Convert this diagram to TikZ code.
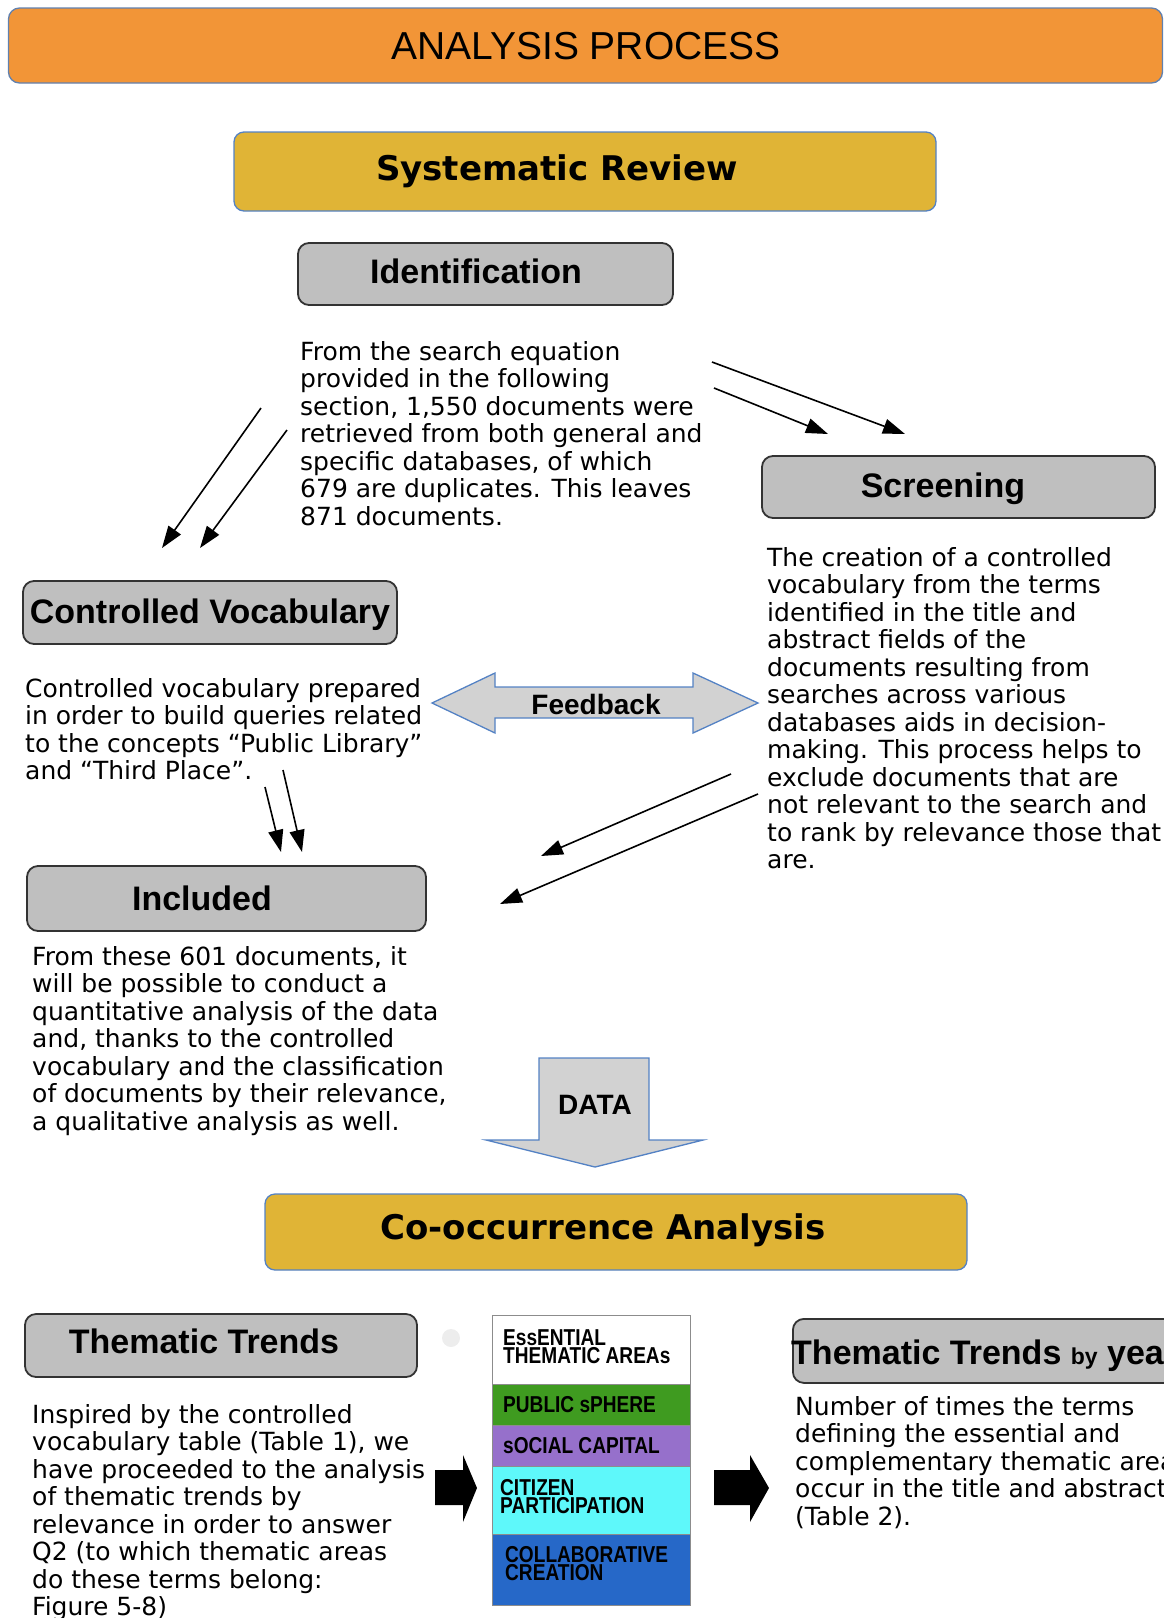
\documentclass[tikz,border=0pt]{standalone}
\usepackage{fontspec}
\setmainfont{DejaVu Sans}
\newfontfamily\hdfont{Liberation Sans}
\newfontfamily\cellfont{Liberation Sans Bold}[FakeStretch=0.83]
\usetikzlibrary{arrows.meta}
\definecolor{orng}{RGB}{242,149,55}
\definecolor{gold}{RGB}{224,180,54}
\definecolor{boxgray}{RGB}{191,191,191}
\definecolor{lgray}{RGB}{210,210,210}
\definecolor{bordblue}{RGB}{84,130,196}
\definecolor{cgreen}{RGB}{63,155,32}
\definecolor{cpurple}{RGB}{150,112,203}
\definecolor{ccyan}{RGB}{94,248,250}
\definecolor{cblue}{RGB}{38,104,200}
\newcommand\bodyfs{\fontsize{25}{27.5}\selectfont}
\newcommand\tstrut{\rule{0pt}{20pt}}
\newcommand\cstrut{\rule{0pt}{16pt}}
\begin{document}
\begin{tikzpicture}[x=1pt,y=-1pt,
  graybox/.style={draw=black!80, line width=1.8pt, fill=boxgray, rounded corners=11pt, inner sep=0pt},
  goldbox/.style={draw=bordblue, line width=1.3pt, fill=gold, rounded corners=10pt, inner sep=0pt},
  hd/.style={font=\hdfont\bfseries\fontsize{34}{34}\selectfont, inner sep=0pt, anchor=base},
  gd/.style={font=\bfseries\fontsize{34}{34}\selectfont, inner sep=0pt, anchor=base},
  body/.style={font=\bodyfs, align=left, inner sep=0pt, anchor=north west},
  conn/.style={line width=1.6pt, -{Triangle[length=22pt,width=15pt]}},
  blockarrow/.style={draw=bordblue, line width=1.3pt, fill=lgray, line join=miter},
  cell/.style={draw=black!45, line width=1.2pt, anchor=north west, minimum width=198pt, inner sep=0pt},
  cellT/.style={font=\cellfont\fontsize{23}{18}\selectfont, align=left, inner sep=0pt, anchor=north west}]
\useasboundingbox (0,0) rectangle (1164,1618);
\clip (0,0) rectangle (1164,1618);

% Title bar
\node[draw=bordblue!70!gray, line width=1.3pt, fill=orng, rounded corners=11pt, minimum width=1154pt, minimum height=75pt, inner sep=0pt] (title) at (585.5,45.5) {};
\node[font=\hdfont\fontsize{39}{39}\selectfont, inner sep=0pt, anchor=base] (titleT) at (586,59) {ANALYSIS PROCESS};

% Systematic Review
\node[goldbox, minimum width=702pt, minimum height=79pt] (sysrev) at (585,171.5) {};
\node[gd] (sysrevT) at (557,180) {Systematic Review};

% Identification
\node[graybox, minimum width=375pt, minimum height=62pt] (ident) at (485.5,274) {};
\node[hd] (identT) at (476,283) {Identification};
\node[body] (identB) at (300,340) {\tstrut From the search equation\\provided in the following\\section, 1,550 documents were\\retrieved from both general and\\specific databases, of which\\679 are duplicates. This leaves\\871 documents.};

% Screening
\node[graybox, minimum width=393pt, minimum height=62pt] (screen) at (958.5,487) {};
\node[hd] (screenT) at (943,497) {Screening};
\node[body] (screenB) at (767,546) {\tstrut The creation of a controlled\\vocabulary from the terms\\identified in the title and\\abstract fields of the\\documents resulting from\\searches across various\\databases aids in decision-\\making. This process helps to\\exclude documents that are\\not relevant to the search and\\to rank by relevance those that\\are.};

% Controlled Vocabulary
\node[graybox, minimum width=374pt, minimum height=63pt] (cv) at (210,612.5) {};
\node[hd] (cvT) at (210,623) {Controlled Vocabulary};
\node[body] (cvB) at (25,677) {\tstrut Controlled vocabulary prepared\\in order to build queries related\\to the concepts “Public Library”\\and “Third Place”.};

% Feedback double arrow
\draw[blockarrow] (432,703) -- (495,673) -- (495,687) -- (693,687) -- (693,673) -- (758,703) -- (693,733) -- (693,718) -- (495,718) -- (495,733) -- cycle;
\node[font=\hdfont\bfseries\fontsize{28}{28}\selectfont, inner sep=0pt] (fbT) at (596,704) {Feedback};

% Included
\node[graybox, minimum width=399pt, minimum height=65pt] (incl) at (226.5,898.5) {};
\node[hd] (inclT) at (202,910) {Included};
\node[body] (inclB) at (32,945) {\tstrut From these 601 documents, it\\will be possible to conduct a\\quantitative analysis of the data\\and, thanks to the controlled\\vocabulary and the classification\\of documents by their relevance,\\a qualitative analysis as well.};

% DATA arrow
\draw[blockarrow] (539,1058) -- (649,1058) -- (649,1140) -- (703,1140) -- (595,1167) -- (486,1140) -- (539,1140) -- cycle;
\node[font=\hdfont\bfseries\fontsize{28}{28}\selectfont, inner sep=0pt] (dataT) at (595,1105) {DATA};

% Co-occurrence Analysis
\node[goldbox, minimum width=702pt, minimum height=76pt] (cooc) at (616,1232) {};
\node[gd] (coocT) at (603,1239) {Co-occurrence Analysis};

% Thematic Trends
\node[graybox, minimum width=392pt, minimum height=63pt] (tt) at (221,1345.5) {};
\node[hd] (ttT) at (204,1353) {Thematic Trends};
\node[body] (ttB) at (32,1403) {\tstrut Inspired by the controlled\\vocabulary table (Table 1), we\\have proceeded to the analysis\\of thematic trends by\\relevance in order to answer\\Q2 (to which thematic areas\\do these terms belong:\\Figure 5-8)};

% faint dot
\fill[black!7] (451,1338) circle (9pt);

% Table of thematic areas
\node[cell, fill=white, minimum height=69pt] (c1) at (492,1315) {};
\node[cell, fill=cgreen, minimum height=41pt] (c2) at (492,1384) {};
\node[cell, fill=cpurple, minimum height=41pt] (c3) at (492,1425) {};
\node[cell, fill=ccyan, minimum height=68pt] (c4) at (492,1466) {};
\node[cell, fill=cblue, minimum height=71pt] (c5) at (492,1534) {};
\node[cellT] (c1T) at (503,1329) {\cstrut EssENTIAL\\THEMATIC AREAs};
\node[cellT] (c2T) at (503,1396) {\cstrut PUBLIC sPHERE};
\node[cellT] (c3T) at (503,1437) {\cstrut sOCIAL CAPITAL};
\node[cellT] (c4T) at (500,1479) {\cstrut CITIZEN\\PARTICIPATION};
\node[cellT] (c5T) at (505,1546) {\cstrut COLLABORATIVE\\CREATION};

% black block arrows
\fill[black] (435,1470) -- (463,1470) -- (463,1455) -- (477,1488) -- (463,1522) -- (463,1505) -- (435,1505) -- cycle;
\fill[black] (714,1470) -- (750,1470) -- (750,1455) -- (769,1488) -- (750,1522) -- (750,1505) -- (714,1505) -- cycle;

% Thematic Trends by year
\node[graybox, minimum width=420pt, minimum height=64pt, anchor=north west] (tby) at (792,1318) {};
\node[hd, anchor=base west] (tbyT) at (791,1364) {Thematic Trends {\fontsize{23}{23}\selectfont by} year};
\node[body] (tbyB) at (795,1395) {\tstrut Number of times the terms\\defining the essential and\\complementary thematic areas\\occur in the title and abstract\\(Table 2).};

% thin arrows
\coordinate (a1s) at (261,408); \coordinate (a1e) at (162,548);
\coordinate (a2s) at (287,430); \coordinate (a2e) at (200,548);
\coordinate (b1s) at (712,362); \coordinate (b1e) at (905,434);
\coordinate (b2s) at (714,388); \coordinate (b2e) at (828,434);
\coordinate (c1s) at (265,787); \coordinate (c1e) at (281,852);
\coordinate (c2s) at (283,770); \coordinate (c2e) at (302,852);
\coordinate (d1s) at (731,774); \coordinate (d1e) at (541,856);
\coordinate (d2s) at (758,794); \coordinate (d2e) at (500,904);
\draw[conn] (a1s) -- (a1e);
\draw[conn] (a2s) -- (a2e);
\draw[conn] (b1s) -- (b1e);
\draw[conn] (b2s) -- (b2e);
\draw[conn] (c1s) -- (c1e);
\draw[conn] (c2s) -- (c2e);
\draw[conn] (d1s) -- (d1e);
\draw[conn] (d2s) -- (d2e);
\end{tikzpicture}
\end{document}
